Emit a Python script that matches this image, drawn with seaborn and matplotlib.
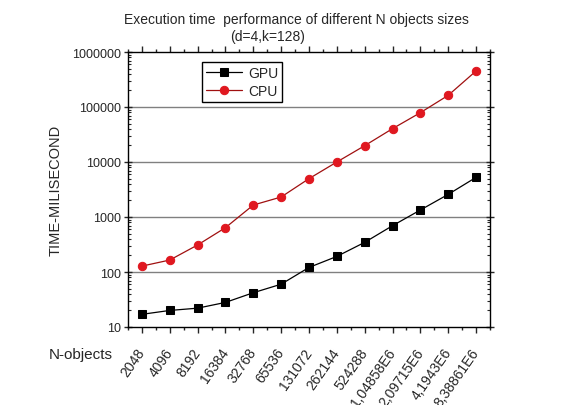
import matplotlib
matplotlib.use("Agg")
import matplotlib.pyplot as plt
import matplotlib.transforms as mtransforms
import seaborn as sns
import pandas as pd
import numpy as np
from matplotlib.ticker import LogLocator, NullFormatter, FixedLocator

sizes = ["2048", "4096", "8192", "16384", "32768", "65536", "131072", "262144",
         "524288", "1,04858E6", "2,09715E6", "4,1943E6", "8,38861E6"]
gpu_ms = [17, 20, 22, 28, 42, 60, 121, 192, 346, 695, 1340, 2580, 5260]
cpu_ms = [128, 165, 310, 640, 1650, 2310, 4980, 10000, 19800, 40400, 78900, 163000, 452000]

df = pd.DataFrame({
    "pos": list(range(len(sizes))) * 2,
    "time": gpu_ms + cpu_ms,
    "device": ["GPU"] * len(sizes) + ["CPU"] * len(sizes),
})

sns.set_style("white")
plt.rcParams['font.family'] = ['Liberation Sans', 'DejaVu Sans']

fig = plt.figure(figsize=(5.61, 4.06), dpi=100)
ax = fig.add_axes([128 / 561, 1 - 328 / 406, 362 / 561, 275 / 406])

sns.lineplot(data=df[df.device == "GPU"], x="pos", y="time", ax=ax, color="black",
             marker="s", markersize=5.5, markeredgecolor="black", linewidth=0.9, label="GPU")
sns.lineplot(data=df[df.device == "CPU"], x="pos", y="time", ax=ax, color="#a01010",
             marker="o", markersize=6, markerfacecolor="#e01820", markeredgecolor="#e01820",
             linewidth=0.9, label="CPU")

ax.set_yscale("log")
ax.set_ylim(10, 1000000)
ax.set_xlim(-0.5, len(sizes) - 0.5)

ax.yaxis.set_minor_locator(LogLocator(base=10, subs=np.arange(2, 10), numticks=20))
ax.yaxis.set_minor_formatter(NullFormatter())
ax.set_yticks([10, 100, 1000, 10000, 100000, 1000000])
ax.set_yticklabels(["10", "100", "1000", "10000", "100000", "1000000"], fontsize=9)

ax.xaxis.set_major_locator(FixedLocator(range(len(sizes))))
ax.xaxis.set_minor_locator(FixedLocator(np.arange(-0.5, len(sizes), 1.0)))
ax.set_xticklabels(sizes, rotation=55, ha="right", va="center",
                   rotation_mode="anchor", fontsize=10)
shift = mtransforms.ScaledTranslation(0.09, 0, fig.dpi_scale_trans)
for lbl in ax.get_xticklabels():
    lbl.set_transform(lbl.get_transform() + shift)

for y in [100, 1000, 10000, 100000]:
    ax.axhline(y, color="#808080", linewidth=1, zorder=0)

for s in ax.spines.values():
    s.set_color("black")
    s.set_linewidth(1)

ax.tick_params(axis="x", which="major", direction="out", length=4, width=1, pad=12,
               top=True, bottom=True)
ax.tick_params(axis="x", which="minor", direction="out", length=2.5, width=1,
               top=True, bottom=True)
ax.tick_params(axis="y", which="major", direction="inout", length=6, width=1,
               left=True, right=True, pad=2)
ax.tick_params(axis="y", which="minor", direction="in", length=2.5, width=0.8,
               left=True, right=True)

ax.set_xlabel("")
ax.set_ylabel("TIME-MILISECOND", fontsize=10.5, labelpad=7)

leg = ax.legend(loc="upper left", bbox_to_anchor=(0.205, 0.965), fontsize=10,
                frameon=True, fancybox=False, edgecolor="black", framealpha=1,
                borderpad=0.3, handlelength=2.6, labelspacing=0.3, borderaxespad=0,
                handletextpad=0.4)
leg.get_frame().set_linewidth(1)

fig.text(296 / 561, 1 - 20 / 406, "Execution time  performance of different N objects sizes",
         ha="center", va="center", fontsize=10)
fig.text(268 / 561, 1 - 37 / 406, "(d=4,k=128)", ha="center", va="center", fontsize=10)
fig.text(81 / 561, 1 - 355 / 406, "N-objects", ha="center", va="center", fontsize=11)

fig.savefig("out.png", dpi=100)
